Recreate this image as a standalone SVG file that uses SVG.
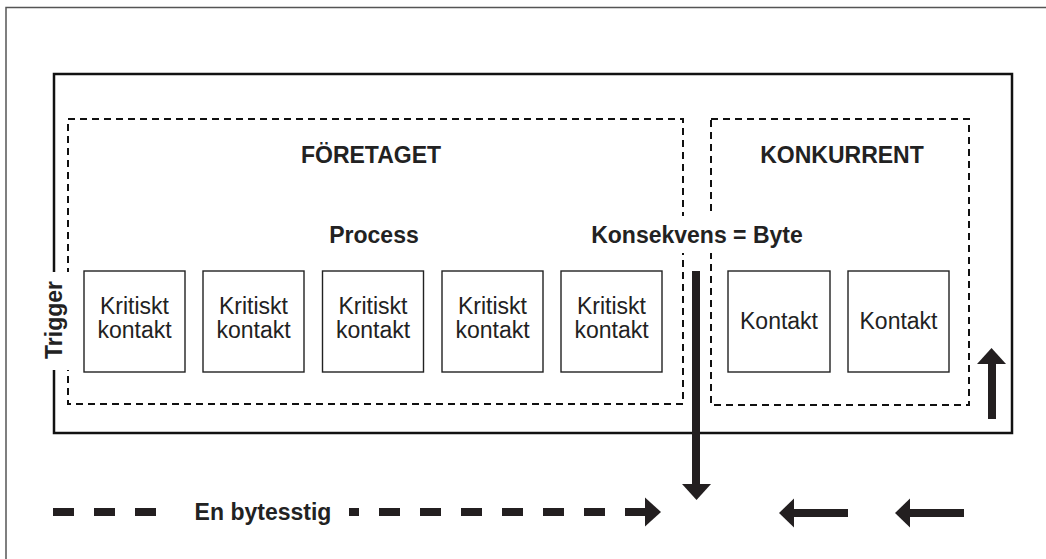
<svg xmlns="http://www.w3.org/2000/svg" width="1046" height="559" viewBox="0 0 1046 559">
<style>
.frame{fill:none;stroke:#555;stroke-width:1.5}
.main{fill:none;stroke:#111;stroke-width:2.5}
.dash{fill:none;stroke:#111;stroke-width:2;stroke-dasharray:7 5}
.box{fill:#fff;stroke:#222;stroke-width:1.4}
.t{font-family:"Liberation Sans",Arial,sans-serif;font-size:23px;fill:#222;text-anchor:middle}
.b{font-weight:bold}
.arr{fill:#231f20;stroke:none}
.sh{stroke:#231f20;stroke-width:8;fill:none}
</style>
<rect width="1046" height="559" fill="#fff"/>
<rect class="frame" x="6" y="7.5" width="1100" height="600"/>
<g id="system">
<rect class="main" x="54" y="74" width="958" height="359"/>
</g>
<g id="foretaget">
<rect class="dash" x="68" y="119" width="615" height="285"/>
<text class="t b" x="371" y="163">FÖRETAGET</text>
<text class="t b" x="374" y="243">Process</text>
</g>
<g id="konkurrent">
<rect class="dash" x="711" y="119" width="258" height="286"/>
<text class="t b" x="842" y="163">KONKURRENT</text>
</g>
<g id="trigger">
<rect x="40" y="272" width="36" height="98" fill="#fff"/>
<text class="t b" transform="translate(62,320) rotate(-90)" x="0" y="0">Trigger</text>
</g>
<g id="konsekvens">
<rect x="583" y="216" width="228" height="37" fill="#fff"/>
<text class="t b" x="697" y="243">Konsekvens = Byte</text>
</g>
<g id="k1"><rect class="box" x="84" y="271" width="101" height="101"/><text class="t" x="134.5" y="314">Kritiskt</text><text class="t" x="134.5" y="338">kontakt</text></g>
<g id="k2"><rect class="box" x="203" y="271" width="101" height="101"/><text class="t" x="253.5" y="314">Kritiskt</text><text class="t" x="253.5" y="338">kontakt</text></g>
<g id="k3"><rect class="box" x="322.5" y="271" width="101" height="101"/><text class="t" x="373" y="314">Kritiskt</text><text class="t" x="373" y="338">kontakt</text></g>
<g id="k4"><rect class="box" x="442" y="271" width="101" height="101"/><text class="t" x="492.5" y="314">Kritiskt</text><text class="t" x="492.5" y="338">kontakt</text></g>
<g id="k5"><rect class="box" x="561" y="271" width="101" height="101"/><text class="t" x="611.5" y="314">Kritiskt</text><text class="t" x="611.5" y="338">kontakt</text></g>
<g id="c1"><rect class="box" x="728" y="271" width="102" height="101"/><text class="t" x="779" y="329">Kontakt</text></g>
<g id="c2"><rect class="box" x="848" y="271" width="101" height="101"/><text class="t" x="898.5" y="329">Kontakt</text></g>
<g id="connectors">
<line class="sh" x1="696" y1="271" x2="696" y2="485"/>
<polygon class="arr" points="682,484 711,484 696.5,500"/>
<line class="sh" x1="992" y1="419" x2="992" y2="362"/>
<polygon class="arr" points="977,364 1006,364 991.5,348"/>
<line class="sh" x1="848" y1="513" x2="792" y2="513"/>
<polygon class="arr" points="794,498.5 794,527.5 779,513"/>
<line class="sh" x1="964" y1="513" x2="908" y2="513"/>
<polygon class="arr" points="910,498.5 910,527.5 895,513"/>
<line class="sh" x1="53" y1="512" x2="156" y2="512" stroke-dasharray="21 20"/>
<line class="sh" x1="349" y1="512" x2="359" y2="512"/>
<line class="sh" x1="379" y1="512" x2="647" y2="512" stroke-dasharray="21 20"/>
<polygon class="arr" points="645,497.5 645,526.5 661,512"/>
<text class="t b" x="263" y="520">En bytesstig</text>
</g>
</svg>
